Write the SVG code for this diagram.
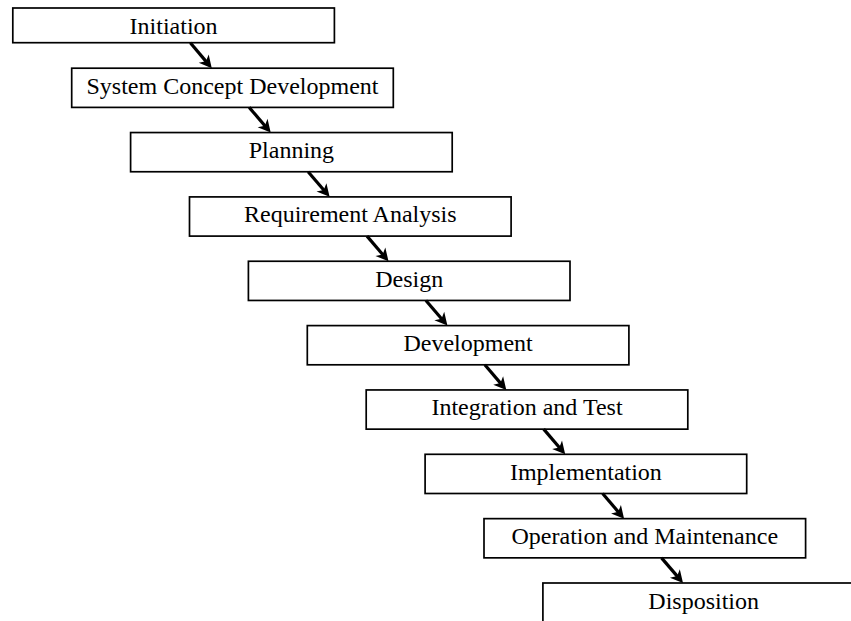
<svg xmlns="http://www.w3.org/2000/svg" width="851" height="621" viewBox="0 0 851 621">
  <style>
    .box { fill: #ffffff; stroke: #000000; stroke-width: 1.7; }
    .label { font-family: "Liberation Serif", "DejaVu Serif", serif; font-size: 24px; fill: #000000; text-anchor: middle; }
    .flow { stroke: #000000; stroke-width: 3.2; fill: none; marker-end: url(#head); }
  </style>
  <defs>
    <marker id="head" markerUnits="userSpaceOnUse" viewBox="-13 -7 14 14" refX="-6" refY="0" markerWidth="14" markerHeight="14" orient="auto">
      <path d="M0,0 L-12.5,-6.5 L-9,0 L-12.5,6.5 Z" fill="#000000"/>
    </marker>
  </defs>
  <rect width="851" height="621" fill="#ffffff"/>

  <!-- phase boxes, stepping down and to the right -->
  <g id="initiation">
    <rect class="box" x="12.8" y="8" width="321.6" height="34.7"/>
    <text class="label" x="173.6" y="33.5">Initiation</text>
  </g>
  <g id="system-concept-development">
    <rect class="box" x="71.7" y="68.2" width="321.6" height="39.2"/>
    <text class="label" x="232.5" y="93.7">System Concept Development</text>
  </g>
  <g id="planning">
    <rect class="box" x="130.6" y="132.55" width="321.6" height="39.2"/>
    <text class="label" x="291.4" y="158.05">Planning</text>
  </g>
  <g id="requirement-analysis">
    <rect class="box" x="189.5" y="196.9" width="321.6" height="39.2"/>
    <text class="label" x="350.3" y="222.4">Requirement Analysis</text>
  </g>
  <g id="design">
    <rect class="box" x="248.4" y="261.25" width="321.6" height="39.2"/>
    <text class="label" x="409.2" y="286.75">Design</text>
  </g>
  <g id="development">
    <rect class="box" x="307.3" y="325.6" width="321.6" height="39.2"/>
    <text class="label" x="468.1" y="351.1">Development</text>
  </g>
  <g id="integration-and-test">
    <rect class="box" x="366.2" y="389.95" width="321.6" height="39.2"/>
    <text class="label" x="527" y="415.45">Integration and Test</text>
  </g>
  <g id="implementation">
    <rect class="box" x="425.1" y="454.3" width="321.6" height="39.2"/>
    <text class="label" x="585.9" y="479.8">Implementation</text>
  </g>
  <g id="operation-and-maintenance">
    <rect class="box" x="484" y="518.65" width="321.6" height="39.2"/>
    <text class="label" x="644.8" y="544.15">Operation and Maintenance</text>
  </g>
  <g id="disposition">
    <rect class="box" x="542.9" y="583" width="321.6" height="39.2"/>
    <text class="label" x="703.7" y="608.5">Disposition</text>
  </g>

  <!-- transitions between consecutive phases -->
  <g id="connectors">
    <line class="flow" x1="190.3" y1="42.7" x2="207.9" y2="63.6"/>
    <line class="flow" x1="249.2" y1="107.4" x2="266.8" y2="128"/>
    <line class="flow" x1="308.1" y1="171.75" x2="325.7" y2="192.3"/>
    <line class="flow" x1="367" y1="236.1" x2="384.6" y2="256.7"/>
    <line class="flow" x1="425.9" y1="300.45" x2="443.5" y2="321"/>
    <line class="flow" x1="484.8" y1="364.8" x2="502.4" y2="385.4"/>
    <line class="flow" x1="543.7" y1="429.15" x2="561.3" y2="449.7"/>
    <line class="flow" x1="602.6" y1="493.5" x2="620.2" y2="514.1"/>
    <line class="flow" x1="661.5" y1="557.85" x2="679.1" y2="578.4"/>
  </g>
</svg>
